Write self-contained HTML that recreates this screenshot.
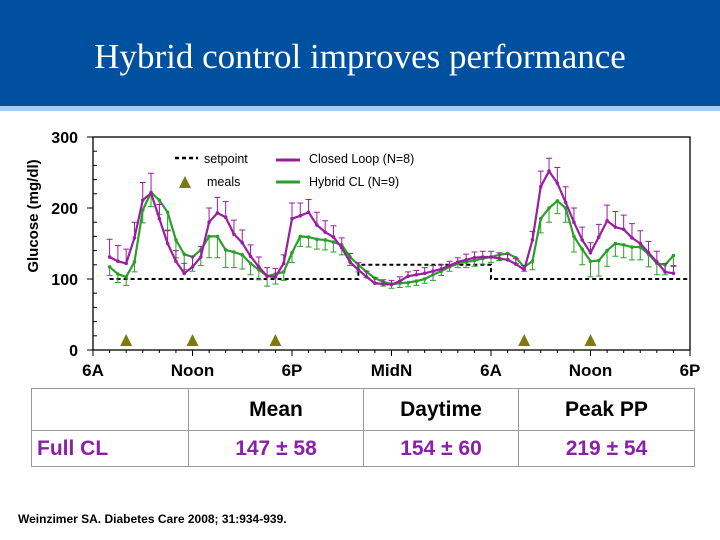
<!DOCTYPE html>
<html><head><meta charset="utf-8"><style>
body{margin:0;width:720px;height:540px;background:#fff;overflow:hidden;position:relative;font-family:"Liberation Sans",Arial,sans-serif}
#hdr{position:absolute;left:0;top:0;width:720px;height:106px;background:#0050a0}
#strip{position:absolute;left:0;top:106px;width:720px;height:5px;background:#a6ccf2}
#title{position:absolute;left:0;top:37px;width:720px;text-align:center;color:#fff;font-family:"Liberation Serif",serif;font-size:35px}
table{position:absolute;left:31px;top:388px;border-collapse:collapse;font-weight:bold}
td{border:1.5px solid #999;text-align:center;padding:0;font-size:21px}
#cite{position:absolute;left:18px;top:512px;font-size:12px;font-weight:bold}
</style></head><body>
<div id="hdr"></div>
<div id="strip"></div>
<div id="title">Hybrid control improves performance</div>
<svg id="chart" width="720" height="540" style="position:absolute;left:0;top:0"></svg>
<table>
<tr style="height:42px"><td style="width:156px"></td><td style="width:174px">Mean</td><td style="width:154px">Daytime</td><td style="width:175px">Peak PP</td></tr>
<tr style="height:36px;color:#8a1fa8"><td style="text-align:left;padding-left:5px">Full CL</td><td>147 ± 58</td><td>154 ± 60</td><td>219 ± 54</td></tr>
</table>
<div id="cite">Weinzimer SA. Diabetes Care 2008; 31:934-939.</div>
<script>
const times=[1,1.5,2,2.5,3,3.5,4,4.5,5,5.5,6,6.5,7,7.5,8,8.5,9,9.5,10,10.5,11,11.5,12,12.5,13,13.5,14,14.5,15,15.5,16,16.5,17,17.5,18,18.5,19,19.5,20,20.5,21,21.5,22,22.5,23,23.5,24,24.5,25,25.5,26,26.5,27,27.5,28,28.5,29,29.5,30,30.5,31,31.5,32,32.5,33,33.5,34,34.5,35];
const closedLoop=[131,125,122,158,211,221,185,150,125,108,117,131,180,193,187,163,151,132,117,104,103,122,185,189,194,176,166,159,144,124,113,103,94,93,92,97,104,106,108,111,114,119,124,127,130,131,131,129,127,121,113,155,230,252,235,208,180,155,137,159,182,173,170,158,150,137,124,110,108];
const closedErr=[25,22,20,22,25,28,20,18,15,14,15,15,20,22,22,20,18,16,14,12,12,12,22,18,18,18,16,16,14,12,10,8,8,6,6,6,6,6,8,8,6,6,6,8,8,8,8,8,8,8,6,12,22,18,22,22,20,18,14,18,22,22,20,20,18,16,15,12,10];
const hybrid=[117,107,103,124,197,222,211,194,155,135,131,141,160,160,141,138,134,122,113,104,107,110,137,160,159,156,155,152,148,131,120,110,101,96,93,94,95,97,100,106,111,117,122,124,126,129,131,134,136,130,117,125,185,200,210,200,160,142,125,126,140,150,148,145,145,135,122,120,133];
const hybridErr=[12,12,12,14,18,20,20,25,25,22,20,22,30,30,25,22,20,16,14,14,14,12,14,14,14,14,14,14,14,12,10,8,6,6,6,6,6,6,6,8,6,6,6,8,8,8,8,8,8,8,6,12,20,20,18,20,22,22,22,22,22,18,18,18,18,18,16,14,14];
const setpointT=[1,16,16,24,24,36];
const setpointV=[100,100,120,120,100,100];
const mealTimes=[2,6,11,26,30];
const yTicks=[0,100,200,300];
const xLabels=["6A","Noon","6P","MidN","6A","Noon","6P"];
const xLabelHours=[0,6,12,18,24,30,36];

const svg=document.getElementById('chart');const NS='http://www.w3.org/2000/svg';
const X0=93,X1=690,Y0=350,Y1=137;
const sx=t=>X0+(X1-X0)*t/36, sy=v=>Y0-(Y0-Y1)*v/300;
function mk(tag,at){const e=document.createElementNS(NS,tag);for(const k in at)e.setAttribute(k,at[k]);svg.appendChild(e);return e;}
let e=mk('rect',{x:X0,y:Y1,width:X1-X0,height:Y0-Y1,fill:'none',stroke:'#000','stroke-width':1.3});


for(let v=0;v<=300;v+=20){const maj=v%100===0;e=mk('line',{x1:maj?87:X0,x2:maj?X0:X0+4,y1:sy(v),y2:sy(v),stroke:'#000','stroke-width':1});

}
yTicks.forEach(v=>{e=mk('text',{x:78,y:sy(v)+6,'text-anchor':'end','font-size':16,'font-weight':'bold'});e.textContent=v;

});
for(let h=0;h<=36;h++){e=mk('line',{x1:sx(h),x2:sx(h),y1:Y0,y2:Y0+(h%6===0?6:3),stroke:'#000','stroke-width':1});

}
xLabels.forEach((l,i)=>{e=mk('text',{x:sx(xLabelHours[i]),y:376,'text-anchor':'middle','font-size':17,'font-weight':'bold'});e.textContent=l;

});
e=mk('text',{x:0,y:0,transform:'translate(38,216) rotate(-90)','text-anchor':'middle','font-size':15,'font-weight':'bold'});e.textContent='Glucose (mg/dl)';


e=mk('polyline',{points:setpointT.map((t,i)=>sx(t)+','+sy(setpointV[i])).join(' '),fill:'none',stroke:'#000','stroke-width':2,'stroke-dasharray':'4,3'});


function series(vals,errs,col,dir,name){
 vals.forEach((v,i)=>{const x=sx(times[i]),y=sy(v),y2=sy(v+dir*errs[i]);
  const b=mk('path',{d:`M${x},${y}V${y2}M${x-3},${y2}H${x+3}`,stroke:col,'stroke-width':1,fill:'none'});
  
  });
 const l=mk('polyline',{points:vals.map((v,i)=>sx(times[i])+','+sy(v)).join(' '),fill:'none',stroke:col,'stroke-width':2.2,'stroke-linejoin':'round'});
 
 
 vals.forEach((v,i)=>{const c=mk('circle',{cx:sx(times[i]),cy:sy(v),r:1.8,fill:col});
  
  });
}
series(hybrid,hybridErr,'#2aa02a',-1,'hybrid-cl');
series(closedLoop,closedErr,'#9a1fa0',1,'closed-loop');
mealTimes.forEach(t=>{const x=sx(t),y=sy(14);e=mk('polygon',{points:`${x-6},${y+6} ${x+6},${y+6} ${x},${y-6}`,fill:'#7d7a10'});

});
e=mk('line',{x1:175,x2:198,y1:158,y2:158,stroke:'#000','stroke-width':2.5,'stroke-dasharray':'4,3'});

e=mk('text',{x:204,y:163,'font-size':12.5});e.textContent='setpoint';

e=mk('polygon',{points:'179,188 191,188 185,176',fill:'#7d7a10'});

e=mk('text',{x:207,y:186,'font-size':12.5});e.textContent='meals';

e=mk('line',{x1:276,x2:300,y1:160,y2:160,stroke:'#9a1fa0','stroke-width':3});

e=mk('text',{x:309,y:163,'font-size':12.5});e.textContent='Closed Loop (N=8)';

e=mk('line',{x1:276,x2:300,y1:182,y2:182,stroke:'#2aa02a','stroke-width':3});

e=mk('text',{x:309,y:186,'font-size':12.5});e.textContent='Hybrid CL (N=9)';

</script>
</body></html>
